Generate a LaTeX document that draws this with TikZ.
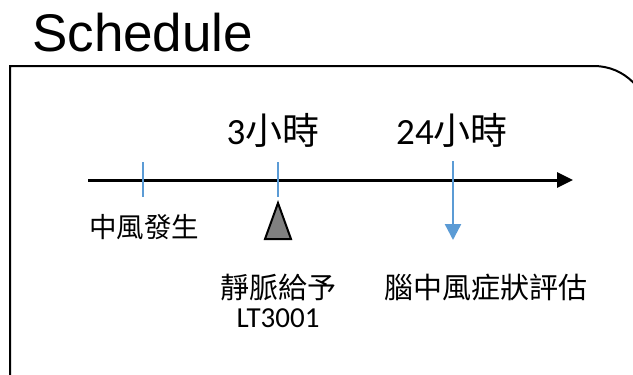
\documentclass[tikz,border=0pt]{standalone}
\usepackage{fontspec}
\setmainfont{Carlito}
\newfontfamily\cjk{Noto Sans CJK TC}
\newfontfamily\titlefont{Liberation Sans}
\usetikzlibrary{arrows.meta}
\definecolor{tickblue}{RGB}{91,155,213}
\tikzset{
  lbl/.style={inner sep=0pt, anchor=center},
  bigl/.style={lbl, font=\fontsize{37}{40}\selectfont},
  smalll/.style={lbl, font=\fontsize{29}{32}\selectfont},
  tick/.style={draw=tickblue, line width=1.2pt},
}
\begin{document}
\begin{tikzpicture}[x=1pt,y=-1pt]
\useasboundingbox (0,0) rectangle (633,375);
\begin{scope}
\clip (0,0) rectangle (633,375);
\fill[white] (0,0) rectangle (633,375);
\draw[line width=2pt] (10,390) -- (10,66) [rounded corners=55pt] -- (649,66) -- (649,390);
\end{scope}
% title
\node[lbl, anchor=base west, font=\titlefont\fontsize{53}{58}\selectfont] (title) at (32,51) {Schedule};
% timeline
\coordinate (tl0) at (88,180);
\coordinate (tl1) at (573,180);
\draw[line width=3pt, -{Triangle[length=16pt,width=15pt]}] (tl0) -- (tl1);
% ticks
\coordinate (t0a) at (143,162); \coordinate (t0b) at (143,197);
\coordinate (t3a) at (278,162); \coordinate (t3b) at (278,197);
\draw[tick] (t0a) -- (t0b);
\draw[tick] (t3a) -- (t3b);
% 24h arrow
\coordinate (t24a) at (453,161); \coordinate (t24b) at (453,240);
\draw[draw=tickblue, line width=2.4pt, -{Triangle[length=16pt,width=16pt]}, color=tickblue] (t24a) -- (t24b);
% triangle marker
\draw[line width=2pt, fill=gray, line join=miter] (278,203) -- (291,239) -- (265,239) -- cycle;
% labels
\node[bigl] (h3) at (273,130) {3{\cjk 小時}};
\node[bigl] (h24) at (452,130) {24{\cjk 小時}};
\node[lbl, font=\fontsize{27.5}{30}\selectfont] (onset) at (144,227) {\cjk 中風發生};
\node[smalll] (iv) at (278,287) {\cjk 靜脈給予};
\node[smalll] (drug) at (278,318) {LT3001};
\node[smalll] (eval) at (486,287) {\cjk 腦中風症狀評估};
\end{tikzpicture}
\end{document}
